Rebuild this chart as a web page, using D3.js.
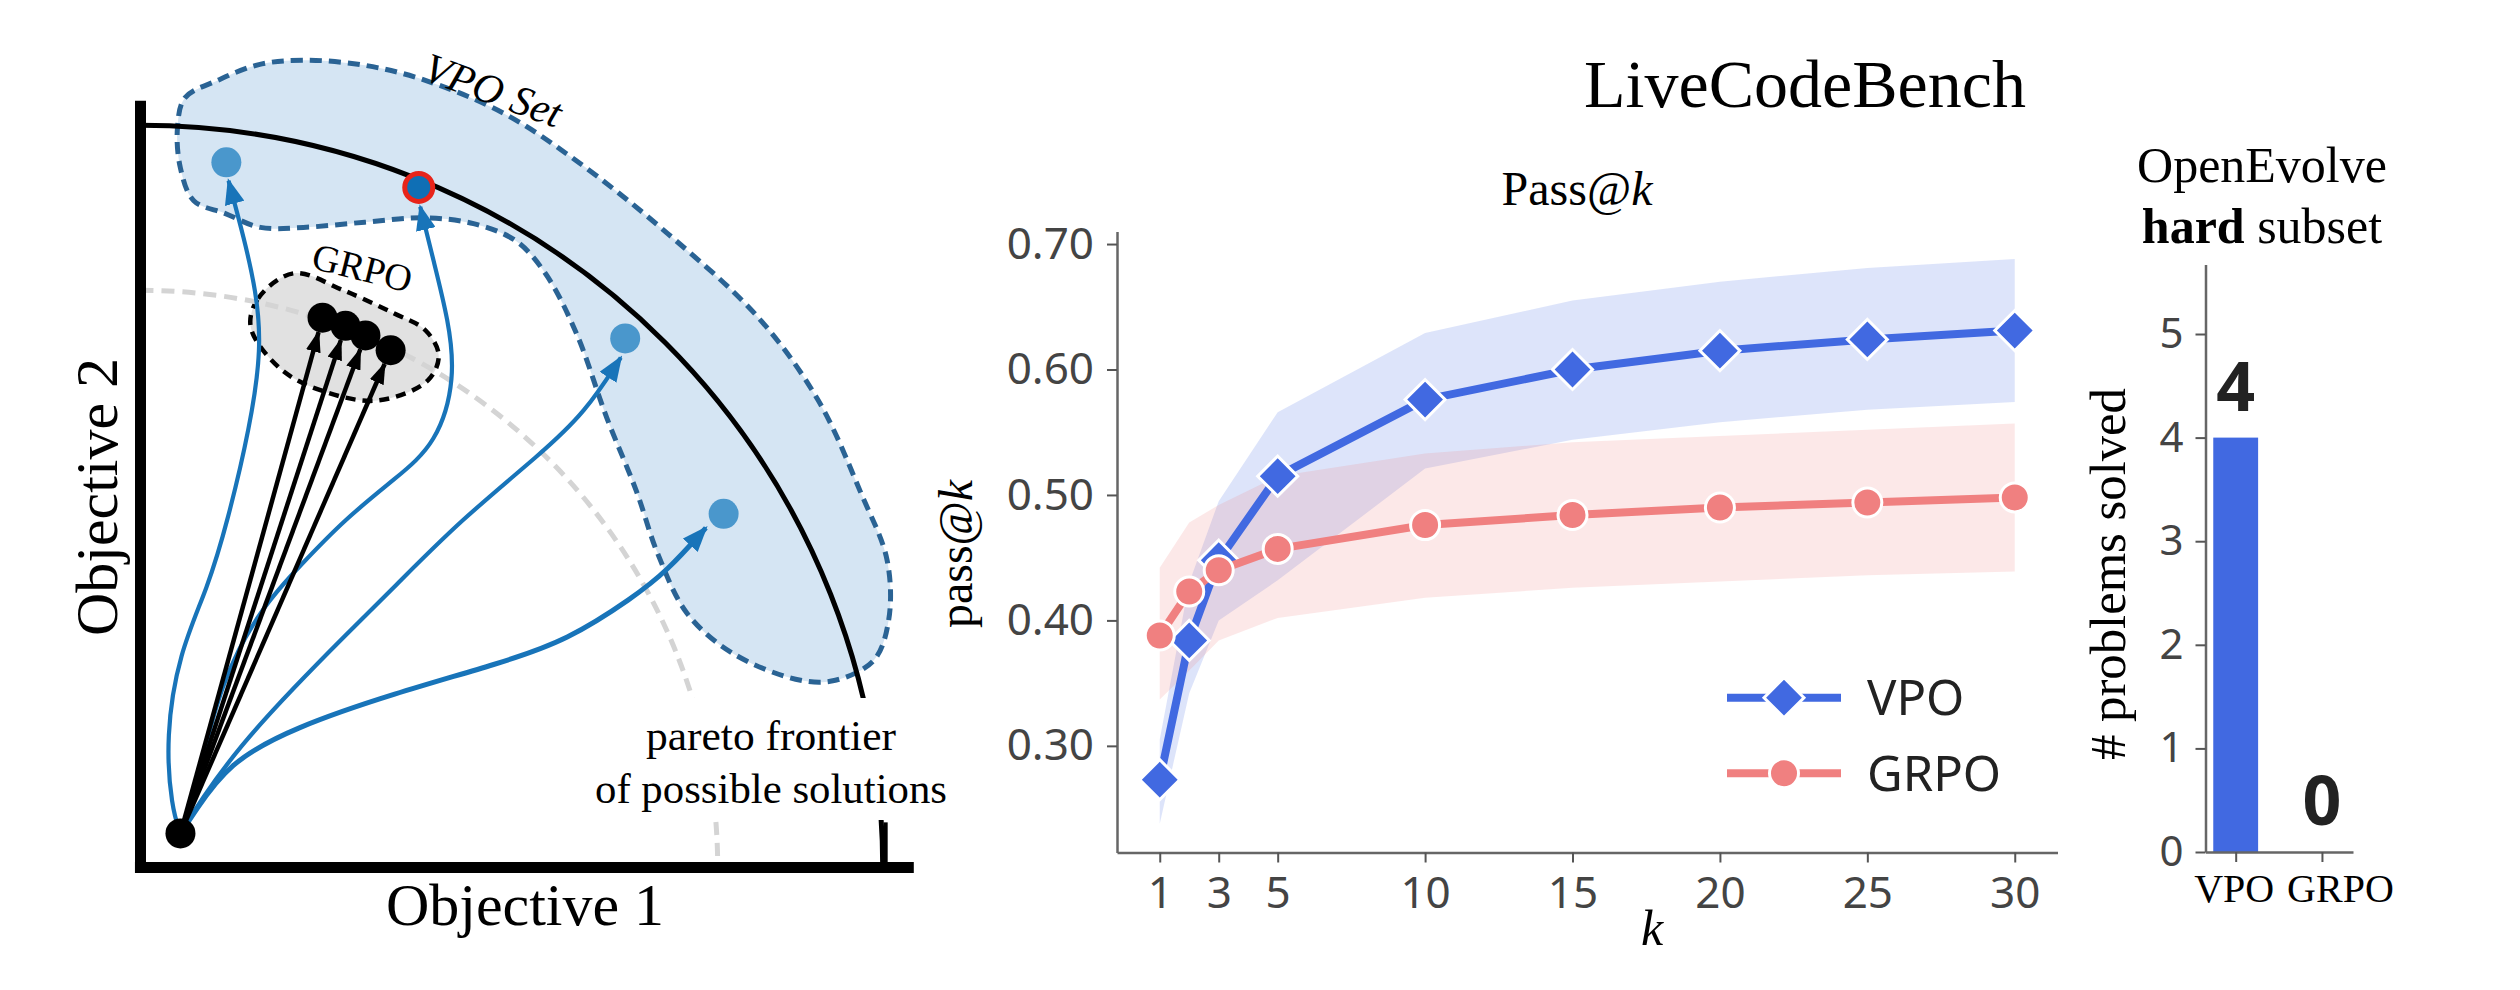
<!DOCTYPE html>
<html>
<head>
<meta charset="utf-8">
<script src="https://cdn.jsdelivr.net/npm/d3@7"></script>
<style>
  body{margin:0;background:#fff}
  svg{display:block}
</style>
</head>
<body>
<svg id="fig" width="2520" height="990"></svg>
<script>
// ---------------- pass@k (LiveCodeBench) ----------------
const kValues=[1,2,3,5,10,15,20,25,30]
const vpoMean=[0.273,0.384,0.448,0.515,0.576,0.600,0.615,0.624,0.631]
const vpoLow=[0.238,0.342,0.400,0.432,0.521,0.544,0.558,0.568,0.574]
const vpoHigh=[0.305,0.430,0.495,0.566,0.629,0.655,0.670,0.681,0.688]
const grpoMean=[0.388,0.423,0.440,0.457,0.476,0.484,0.490,0.494,0.498]
const grpoLow=[0.337,0.360,0.384,0.402,0.418,0.426,0.431,0.436,0.439]
const grpoHigh=[0.442,0.478,0.492,0.515,0.533,0.542,0.547,0.552,0.557]
const kTicks=[1,3,5,10,15,20,25,30]
const passTicks=[0.3,0.4,0.5,0.6,0.7]

// ---------------- OpenEvolve hard subset ----------------
const methods=["VPO","GRPO"]
const solved=[4,0]
const solvedTicks=[0,1,2,3,4,5]

// ---------------- diagram, objective units (0-100 on both axes) ----------------
const startPoint=[5.4,4.6]
const vpoPoints=[[11.6,95.3],[37.6,91.9],[65.5,71.5],[78.8,47.8]]
const bestIndex=1
const grpoPoints=[[24.6,74.3],[27.7,73.2],[30.4,71.9],[33.8,69.9]]
const frontierRadius=100.3
const innerRadius=78
const vpoSetOutline=[[5.0,100.0],[6.0,104.0],[10.5,106.4],[16.0,108.5],[22.0,109.1],[30.3,108.4],
  [38.4,106.4],[49.1,101.9],[58.9,95.5],[71.2,85.7],[83.5,74.3],[91.6,63.1],[97.4,50.5],
  [100.9,41.5],[101.1,33.4],[99.1,28.0],[93.9,25.3],[89.2,25.3],[80.1,28.9],[73.9,34.3],
  [69.9,42.4],[67.0,50.9],[63.0,60.8],[58.9,72.2],[54.7,80.3],[50.7,84.7],[45.0,87.0],
  [38.4,87.8],[30.3,87.2],[22.0,86.5],[16.2,86.5],[11.4,88.4],[7.2,90.1],[5.4,94.5]]
const grpoOutline=[[14.9,73.0],[15.9,76.9],[20.7,80.3],[27.4,78.0],[34.2,74.9],[38.5,72.6],
  [40.3,69.2],[38.8,65.8],[32.0,63.1],[24.3,64.5],[18.9,67.4]]
const vpoPaths=[
  [[5.4,4.6],[4.2,8.0],[3.4,17.6],[5.2,29.0],[9.1,37.8],[11.8,46.9],[14.8,59.5],[16.4,70.3],[15.6,78.0],[14.0,85.0],[11.9,92.8]],
  [[5.4,4.6],[7.4,10.4],[10.8,25.3],[16.5,35.4],[21.6,40.8],[27.4,46.9],[34.5,52.6],[40.1,57.3],[42.6,66.2],[41.6,74.0],[39.6,82.0],[37.8,89.3]],
  [[5.4,4.6],[8.1,9.1],[13.5,16.5],[20.7,24.3],[27.7,31.4],[34.2,37.8],[43.2,46.9],[54.1,55.9],[60.1,61.5],[64.9,68.9]],
  [[5.4,4.6],[7.2,7.3],[11.8,14.1],[20.7,18.9],[34.2,23.5],[48.6,27.6],[57.7,30.7],[66.6,36.5],[71.2,40.1],[76.4,45.9]]
]

const serif="'Liberation Serif','DejaVu Serif',serif"
const sans="'Noto Sans','Open Sans',sans-serif"
const svg=d3.select("#fig")
const defs=svg.append("defs")

function arrowMarker(id,color,len,wid){
  defs.append("marker").attr("id",id)
    .attr("viewBox","0 0 10 10").attr("refX",9).attr("refY",5)
    .attr("markerUnits","userSpaceOnUse").attr("preserveAspectRatio","none")
    .attr("markerWidth",len).attr("markerHeight",wid).attr("orient","auto")
    .append("path").attr("d","M0,0L10,5L0,10Z").attr("fill",color)
}
arrowMarker("blueHead","#1874b9",26,20)
arrowMarker("blackHead","#000",22,15)

// =============== left diagram ===============
const ox=d3.scaleLinear().domain([0,100]).range([140.5,880.5])
const oy=d3.scaleLinear().domain([0,100]).range([867.5,127.5])
const px=d=>ox(d[0]), py=d=>oy(d[1])
const unit=ox(1)-ox(0)
const dg=svg.append("g")

const closed=d3.line().x(px).y(py).curve(d3.curveCatmullRomClosed.alpha(0.5))
dg.append("path").attr("d",closed(vpoSetOutline))
  .attr("fill","#d5e5f3").attr("stroke","#2a6394").attr("stroke-width",5).attr("stroke-dasharray","12,7")
dg.append("path").attr("d",closed(grpoOutline))
  .attr("fill","#e1e1e1").attr("stroke","#000").attr("stroke-width",4.5).attr("stroke-dasharray","10,7")

function quarterArc(r){
  const p=d3.path()
  p.arc(ox(0),oy(0),r*unit,-Math.PI/2,0)
  return p.toString()
}
dg.append("path").attr("d",quarterArc(innerRadius)).attr("fill","none")
  .attr("stroke","#d4d4d4").attr("stroke-width",5).attr("stroke-dasharray","13,8")
dg.append("path").attr("d",quarterArc(frontierRadius)).attr("fill","none")
  .attr("stroke","#000").attr("stroke-width",5)

// axes of the diagram
dg.append("line").attr("x1",ox(0)).attr("x2",ox(0)).attr("y1",oy(103.6)).attr("y2",oy(-0.75))
  .attr("stroke","#000").attr("stroke-width",11)
dg.append("line").attr("x1",ox(-0.75)).attr("x2",ox(104.5)).attr("y1",oy(0)).attr("y2",oy(0))
  .attr("stroke","#000").attr("stroke-width",11)
dg.append("line").attr("x1",ox(100.7)).attr("x2",ox(100.7)).attr("y1",oy(0)).attr("y2",oy(6.1))
  .attr("stroke","#000").attr("stroke-width",4)

// label box over the frontier ends
dg.append("rect").attr("x",588).attr("y",698).attr("width",365).attr("height",122).attr("fill","#fff")
dg.append("text").attr("x",771).attr("y",750).attr("text-anchor","middle")
  .attr("font-family",serif).attr("font-size",43).attr("textLength",250).attr("lengthAdjust","spacingAndGlyphs")
  .text("pareto frontier")
dg.append("text").attr("x",771).attr("y",803).attr("text-anchor","middle")
  .attr("font-family",serif).attr("font-size",43).attr("textLength",352).attr("lengthAdjust","spacingAndGlyphs")
  .text("of possible solutions")

// arrows
const curve=d3.line().x(px).y(py).curve(d3.curveBasis)
dg.selectAll(".vpath").data(vpoPaths).enter().append("path").attr("class","vpath")
  .attr("d",d=>curve(d)).attr("fill","none").attr("stroke","#1874b9").attr("stroke-width",(d,i)=>i===3?5:4.2)
  .attr("marker-end","url(#blueHead)")

const sx=px(startPoint), sy=py(startPoint)
dg.selectAll(".garrow").data(grpoPoints).enter().append("line").attr("class","garrow")
  .attr("x1",sx).attr("y1",sy)
  .attr("x2",d=>{const dx=px(d)-sx,dy=py(d)-sy,l=Math.hypot(dx,dy);return px(d)-dx/l*15})
  .attr("y2",d=>{const dx=px(d)-sx,dy=py(d)-sy,l=Math.hypot(dx,dy);return py(d)-dy/l*15})
  .attr("stroke","#000").attr("stroke-width",4.5).attr("marker-end","url(#blackHead)")

dg.selectAll(".gpt").data(grpoPoints).enter().append("circle").attr("class","gpt")
  .attr("cx",px).attr("cy",py).attr("r",15).attr("fill","#000")
dg.append("circle").attr("cx",sx).attr("cy",sy).attr("r",15).attr("fill","#000")

dg.selectAll(".vpt").data(vpoPoints).enter().append("circle").attr("class","vpt")
  .attr("cx",px).attr("cy",py)
  .attr("r",(d,i)=>i===bestIndex?14:15)
  .attr("fill",(d,i)=>i===bestIndex?"#0f6fb5":"#4a97cc")
  .attr("stroke",(d,i)=>i===bestIndex?"#e8241a":"none")
  .attr("stroke-width",5)

// diagram labels
dg.append("text").attr("transform","translate(421,79) rotate(20)")
  .attr("font-family",serif).attr("font-style","italic").attr("font-size",42).text("VPO Set")
dg.append("text").attr("transform","translate(310,268) rotate(14)")
  .attr("font-family",serif).attr("font-size",38).text("GRPO")
dg.append("text").attr("x",525).attr("y",925).attr("text-anchor","middle")
  .attr("font-family",serif).attr("font-size",60).text("Objective 1")
dg.append("text").attr("transform","translate(117,497) rotate(-90)").attr("text-anchor","middle")
  .attr("font-family",serif).attr("font-size",60).text("Objective 2")

// =============== pass@k line chart ===============
const x=d3.scaleLinear().domain([-0.45,31.45]).range([1117,2057.5])
const y=d3.scaleLinear().domain([0.215,0.71]).range([852.5,231.5])
const lc=svg.append("g")

const series=[
  {name:"VPO",mean:vpoMean,low:vpoLow,high:vpoHigh,color:"#4169e1",shape:"diamond"},
  {name:"GRPO",mean:grpoMean,low:grpoLow,high:grpoHigh,color:"#f08080",shape:"circle"}
]
const band=d3.area().x((d,i)=>x(kValues[i])).y0(d=>y(d[0])).y1(d=>y(d[1]))
series.forEach(s=>{
  lc.append("path").attr("d",band(s.low.map((v,i)=>[v,s.high[i]])))
    .attr("fill",s.color).attr("fill-opacity",0.18)
})
const line=d3.line().x((d,i)=>x(kValues[i])).y(d=>y(d))
const diamond=d3.symbol(d3.symbolSquare,800)
function drawMarker(g,shape,color,cx,cy){
  if(shape==="diamond"){
    g.append("path").attr("d",diamond()).attr("transform",`translate(${cx},${cy}) rotate(45)`)
      .attr("fill",color).attr("stroke","#fff").attr("stroke-width",3)
  }else{
    g.append("circle").attr("cx",cx).attr("cy",cy).attr("r",14.5)
      .attr("fill",color).attr("stroke","#fff").attr("stroke-width",3)
  }
}
series.forEach(s=>{
  lc.append("path").attr("d",line(s.mean)).attr("fill","none")
    .attr("stroke",s.color).attr("stroke-width",8).attr("stroke-linejoin","round")
  s.mean.forEach((v,i)=>drawMarker(lc,s.shape,s.color,x(kValues[i]),y(v)))
})

const yAxis=d3.axisLeft(y).tickValues(passTicks).tickFormat(d3.format(".2f")).tickSize(10).tickSizeOuter(0).tickPadding(13)
const xAxis=d3.axisBottom(x).tickValues(kTicks).tickSize(10).tickSizeOuter(0).tickPadding(14)
const gy=lc.append("g").attr("transform",`translate(${x.range()[0]},0)`).call(yAxis)
const gx=lc.append("g").attr("transform",`translate(0,${y.range()[0]})`).call(xAxis)
;[gx,gy].forEach(g=>{
  g.select(".domain").attr("stroke","#666").attr("stroke-width",2.5)
  g.selectAll(".tick line").attr("stroke","#555").attr("stroke-width",2)
  g.selectAll(".tick text").attr("font-family",sans).attr("font-size",44).attr("fill","#444")
})

// legend
const lg=lc.append("g")
series.forEach((s,i)=>{
  const ly=697.7+i*75.6
  lg.append("line").attr("x1",1727).attr("x2",1841).attr("y1",ly).attr("y2",ly)
    .attr("stroke",s.color).attr("stroke-width",8)
  drawMarker(lg,s.shape,s.color,1784,ly)
  lg.append("text").attr("x",1867).attr("y",ly).attr("dy","0.36em")
    .attr("font-family",sans).attr("font-size",49).attr("fill","#222").text(s.name)
})

// titles and axis labels
svg.append("text").attr("x",1805).attr("y",107).attr("text-anchor","middle")
  .attr("font-family",serif).attr("font-size",68).text("LiveCodeBench")
const t1=svg.append("text").attr("x",1577).attr("y",205).attr("text-anchor","middle")
  .attr("font-family",serif).attr("font-size",48)
t1.append("tspan").text("Pass@")
t1.append("tspan").attr("font-style","italic").text("k")
const t2=svg.append("text").attr("transform","translate(972,554) rotate(-90)").attr("text-anchor","middle")
  .attr("font-family",serif).attr("font-size",48)
t2.append("tspan").text("pass@")
t2.append("tspan").attr("font-style","italic").text("k")
svg.append("text").attr("x",1652).attr("y",945).attr("text-anchor","middle")
  .attr("font-family",serif).attr("font-style","italic").attr("font-size",50).text("k")

// =============== bar chart ===============
const bx=d3.scaleLinear().domain([-0.35,1.36]).range([2205.5,2353])
const by=d3.scaleLinear().domain([0,5.67]).range([852,264.6])
const bc=svg.append("g")
const barW=0.52
bc.selectAll(".bar").data(solved).enter().append("rect").attr("class","bar")
  .attr("x",(d,i)=>bx(i-barW/2)).attr("width",bx(barW)-bx(0))
  .attr("y",d=>by(d)).attr("height",d=>by(0)-by(d)).attr("fill","#4169e1")
bc.selectAll(".blabel").data(solved).enter().append("text").attr("class","blabel")
  .attr("x",(d,i)=>bx(i)).attr("y",d=>by(d)-27).attr("text-anchor","middle")
  .attr("font-family",sans).attr("font-weight","bold").attr("font-size",68).attr("fill","#222")
  .text(d=>d)

const byAxis=d3.axisLeft(by).tickValues(solvedTicks).tickFormat(d3.format("d")).tickSize(10).tickSizeOuter(0).tickPadding(12)
const bxAxis=d3.axisBottom(bx).tickValues(methods.map((m,i)=>i)).tickFormat(i=>methods[i]).tickSize(10).tickSizeOuter(0).tickPadding(12)
const gby=bc.append("g").attr("transform",`translate(${bx.range()[0]},0)`).call(byAxis)
const gbx=bc.append("g").attr("transform",`translate(0,${by.range()[0]})`).call(bxAxis)
;[gbx,gby].forEach(g=>{
  g.select(".domain").attr("stroke","#666").attr("stroke-width",2.5)
  g.selectAll(".tick line").attr("stroke","#555").attr("stroke-width",2)
})
gby.selectAll(".tick text").attr("font-family",sans).attr("font-size",42).attr("fill","#444")
gbx.selectAll(".tick text").attr("font-family",serif).attr("font-size",40).attr("fill","#000")
  .attr("dx",(d,i)=>i===1?18:-2)

const bt=svg.append("text").attr("text-anchor","middle").attr("font-family",serif).attr("font-size",50)
bt.append("tspan").attr("x",2262).attr("y",182).text("OpenEvolve")
bt.append("tspan").attr("x",2262).attr("y",243).attr("font-weight","bold").text("hard")
bt.append("tspan").text(" subset")
svg.append("text").attr("transform","translate(2125,574) rotate(-90)").attr("text-anchor","middle")
  .attr("font-family",serif).attr("font-size",50).attr("textLength",372).attr("lengthAdjust","spacingAndGlyphs")
  .text("# problems solved")
</script>
</body>
</html>
